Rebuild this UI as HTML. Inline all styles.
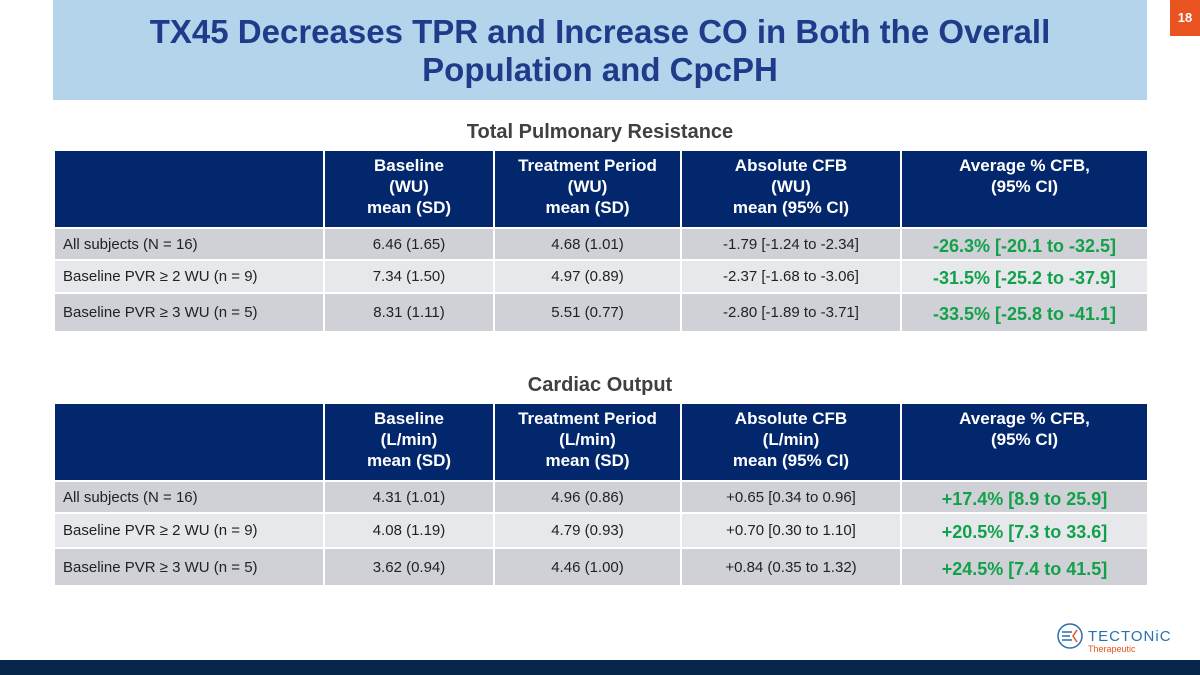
<!DOCTYPE html>
<html><head><meta charset="utf-8"><style>
*{margin:0;padding:0;box-sizing:border-box}
body{width:1200px;height:675px;position:relative;background:#fff;font-family:"Liberation Sans",sans-serif;overflow:hidden}
.title{position:absolute;left:53px;top:0;width:1094px;height:100px;background:#b3d4ea;color:#1f3c8a;font-weight:bold;font-size:33px;line-height:38px;text-align:center;padding-top:13px}
.pg{position:absolute;left:1170px;top:0;width:30px;height:36px;background:#e9531f;color:#fff;font-size:13px;font-weight:bold;text-align:center;line-height:36px}
.cap{position:absolute;left:53px;width:1094px;text-align:center;font-weight:bold;color:#404040;font-size:20px}
table{position:absolute;left:53px;width:1094px;border-collapse:collapse;table-layout:fixed}
td,th{border:2px solid #fff;font-size:15px;color:#222}
th{background:#03276d;color:#fff;font-weight:bold;font-size:17px;line-height:21px;vertical-align:top;padding-top:4px;height:78px}
td{text-align:center}
td:first-child{text-align:left;padding-left:8px}
tr.a td{background:#cfd1d6}
tr.b td{background:#e7e8eb}
td.g{color:#12a14a;font-weight:bold;font-size:18px;padding-top:4px}
.bar{position:absolute;left:0;top:660px;width:1200px;height:15px;background:#06264a}
.logo{position:absolute;left:1056px;top:620px}
</style></head><body>
<div class="title">TX45 Decreases TPR and Increase CO in Both the Overall<br>Population and CpcPH</div>
<div class="pg">18</div>
<div class="cap" style="top:121px">Total Pulmonary Resistance</div>
<table style="top:149px">
<colgroup><col style="width:270px"><col style="width:170px"><col style="width:187px"><col style="width:220px"><col style="width:247px"></colgroup>
<tr><th></th><th>Baseline<br>(WU)<br>mean (SD)</th><th>Treatment Period<br>(WU)<br>mean (SD)</th><th>Absolute CFB<br>(WU)<br>mean (95% CI)</th><th>Average % CFB,<br>(95% CI)</th></tr>
<tr class="a" style="height:32px"><td>All subjects (N = 16)</td><td>6.46 (1.65)</td><td>4.68 (1.01)</td><td>-1.79 [-1.24 to -2.34]</td><td class="g">-26.3% [-20.1 to -32.5]</td></tr>
<tr class="b" style="height:33px"><td>Baseline PVR ≥ 2 WU (n = 9)</td><td>7.34 (1.50)</td><td>4.97 (0.89)</td><td>-2.37 [-1.68 to -3.06]</td><td class="g">-31.5% [-25.2 to -37.9]</td></tr>
<tr class="a" style="height:39px"><td>Baseline PVR ≥ 3 WU (n = 5)</td><td>8.31 (1.11)</td><td>5.51 (0.77)</td><td>-2.80 [-1.89 to -3.71]</td><td class="g">-33.5% [-25.8 to -41.1]</td></tr>
</table>
<div class="cap" style="top:374px">Cardiac Output</div>
<table style="top:402px">
<colgroup><col style="width:270px"><col style="width:170px"><col style="width:187px"><col style="width:220px"><col style="width:247px"></colgroup>
<tr><th></th><th>Baseline<br>(L/min)<br>mean (SD)</th><th>Treatment Period<br>(L/min)<br>mean (SD)</th><th>Absolute CFB<br>(L/min)<br>mean (95% CI)</th><th>Average % CFB,<br>(95% CI)</th></tr>
<tr class="a" style="height:32px"><td>All subjects (N = 16)</td><td>4.31 (1.01)</td><td>4.96 (0.86)</td><td>+0.65 [0.34 to 0.96]</td><td class="g">+17.4% [8.9 to 25.9]</td></tr>
<tr class="b" style="height:35px"><td>Baseline PVR ≥ 2 WU (n = 9)</td><td>4.08 (1.19)</td><td>4.79 (0.93)</td><td>+0.70 [0.30 to 1.10]</td><td class="g">+20.5% [7.3 to 33.6]</td></tr>
<tr class="a" style="height:38px"><td>Baseline PVR ≥ 3 WU (n = 5)</td><td>3.62 (0.94)</td><td>4.46 (1.00)</td><td>+0.84 (0.35 to 1.32)</td><td class="g">+24.5% [7.4 to 41.5]</td></tr>
</table>
<div class="logo">
<svg width="130" height="36" viewBox="0 0 130 36"><circle cx="14" cy="16" r="12" fill="none" stroke="#2a6fb0" stroke-width="1.5"/><path d="M6 12h10M6 16h8M6 20h10" stroke="#2a6fb0" stroke-width="1.5"/><path d="M21 10l-4 6 4 6" stroke="#e9531f" stroke-width="1.5" fill="none"/>
<text x="32" y="21" font-size="15" fill="#2a6fb0" font-family="Liberation Sans" letter-spacing="1">TECTONiC</text><text x="32" y="32" font-size="9" fill="#e9531f" font-family="Liberation Sans">Therapeutic</text></svg></div>
<div class="bar"></div>
</body></html>
